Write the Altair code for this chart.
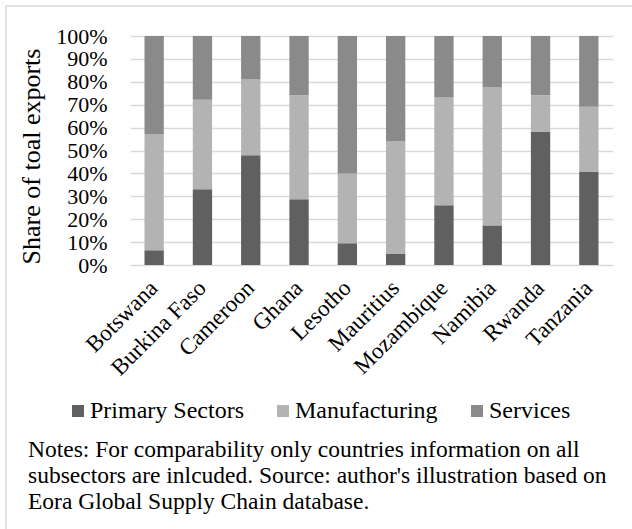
import altair as alt
import pandas as pd

# Export composition by broad sector, share of total exports (%)
countries = ["Botswana", "Burkina Faso", "Cameroon", "Ghana", "Lesotho",
             "Mauritius", "Mozambique", "Namibia", "Rwanda", "Tanzania"]
sectors = ["Primary Sectors", "Manufacturing", "Services"]
primary = [6.4, 33.1, 47.9, 28.7, 9.5, 4.8, 26.1, 17.3, 58.1, 40.6]
manufacturing = [50.8, 39.1, 33.1, 45.4, 30.5, 49.4, 47.0, 60.2, 16.1, 28.5]
services = [42.8, 27.8, 19.0, 25.9, 60.0, 45.8, 26.9, 22.5, 25.8, 30.9]
sector_colors = ["#606060", "#b3b3b3", "#8a8a8a"]
y_ticks = [0, 0.1, 0.2, 0.3, 0.4, 0.5, 0.6, 0.7, 0.8, 0.9, 1.0]
notes = [
    "Notes: For comparability only countries information on all",
    "subsectors are inlcuded. Source: author's illustration based on",
    "Eora Global Supply Chain database.",
]

rows = []
for i, country in enumerate(countries):
    for rank, (sector, values) in enumerate(zip(sectors, [primary, manufacturing, services])):
        rows.append({"country": country, "sector": sector,
                     "share": values[i] / 100, "rank": rank})
df = pd.DataFrame(rows)

FONT = "'Liberation Serif', 'Times New Roman', serif"
GRID = "#d9d9d9"
W, H = 483, 229

bars = alt.Chart(df).mark_bar().encode(
    x=alt.X(
        "country:N", sort=countries,
        scale=alt.Scale(paddingInner=0.6, paddingOuter=0.3),
        axis=alt.Axis(title=None, labelAngle=-45, labelAlign="right",
                      labelBaseline="middle", labelFont=FONT, labelFontSize=23,
                      labelColor="black", labelPadding=19, ticks=False, tickSize=0,
                      domain=False, grid=False),
    ),
    y=alt.Y(
        "share:Q", stack="zero",
        scale=alt.Scale(domain=[0, 1], nice=False),
        axis=alt.Axis(values=y_ticks, format=".0%", title="Share of toal exports",
                      labelFont=FONT, labelFontSize=22, labelColor="black",
                      labelPadding=23, ticks=False, tickSize=0, domain=False,
                      grid=True, gridColor=GRID, gridWidth=1.5,
                      titleFont=FONT, titleFontSize=26, titleFontWeight="normal",
                      titleColor="black", titleAngle=270, titleX=-91, titleY=120,
                      titleAlign="center", titleBaseline="alphabetic"),
    ),
    color=alt.Color(
        "sector:N",
        scale=alt.Scale(domain=sectors, range=sector_colors),
        legend=alt.Legend(title=None, orient="none", direction="horizontal",
                          legendX=-64, legendY=363, labelFont=FONT,
                          labelFontSize=24, labelColor="black",
                          symbolType="square", symbolSize=144,
                          symbolStrokeWidth=0, labelOffset=0,
                          columnPadding=27, padding=0),
    ),
    order=alt.Order("rank:Q", sort="ascending"),
)

# Thin frame along the top and left edge of the figure
frame = alt.Chart(pd.DataFrame({"k": [0]})).mark_rule(color=GRID, strokeWidth=1.5)
top_edge = frame.encode(x=alt.value(-124), x2=alt.value(W + 19), y=alt.value(-30))
left_edge = frame.encode(x=alt.value(-124), y=alt.value(-30), y2=alt.value(529 - 36))

# Source note below the legend
note_text = alt.Chart(pd.DataFrame({"k": [0]})).mark_text(
    text=notes, font=FONT, fontSize=23.5, lineHeight=26, align="left",
    baseline="alphabetic", color="black",
).encode(x=alt.value(-102), y=alt.value(421))

chart = alt.layer(bars, top_edge, left_edge, note_text).properties(
    width=W,
    height=H,
    autosize=alt.AutoSizeParams(type="none"),
    padding={"left": 130, "top": 36, "right": 19, "bottom": 529 - 36 - H},
    background="white",
).configure(font=FONT).configure_legend(labelFont=FONT).configure_view(stroke=None)

chart.save("out.html", embed_options={"renderer": "svg", "actions": False})
